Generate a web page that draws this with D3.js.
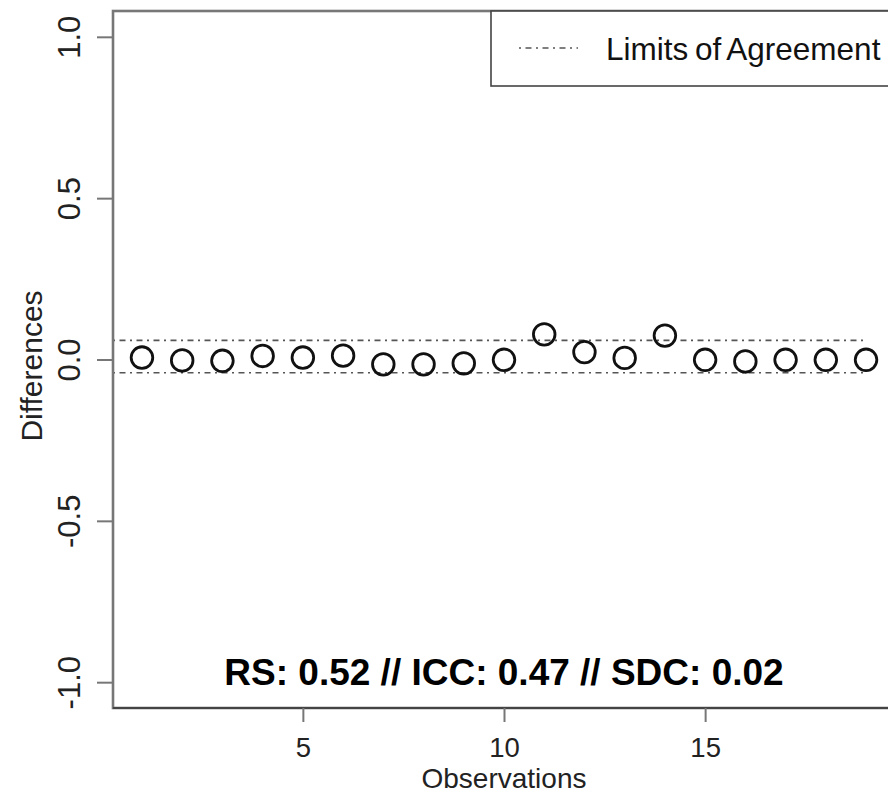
<!DOCTYPE html>
<html>
<head>
<meta charset="utf-8">
<script src="https://cdn.jsdelivr.net/npm/d3@7"></script>
<style>
  body { margin: 0; background: #fff; }
  svg { display: block; font-family: "Liberation Sans", Arial, sans-serif; }
</style>
</head>
<body>
<svg id="chart" width="888" height="795"></svg>
<script>
var observations = [1,2,3,4,5,6,7,8,9,10,11,12,13,14,15,16,17,18,19]
var differences = [0.006,-0.003,-0.004,0.011,0.006,0.012,-0.015,-0.015,-0.012,-0.001,
                   0.078,0.023,0.005,0.074,-0.001,-0.006,-0.001,-0.001,-0.001]
var limits = [-0.041, 0.059]
var xTicks = [5, 10, 15]
var yTicks = [-1, -0.5, 0, 0.5, 1]
var legendLabel = 'Limits of Agreement'
var statsLabel = 'RS: 0.52 // ICC: 0.47 // SDC: 0.02'

var svg = d3.select('#chart')
// plot region (note: "top" is taken by window.top)
var plotL = 113, plotR = 895, plotT = 11, plotB = 708

// R style 4% padding on each side
var xScale = d3.scaleLinear().domain([0.28, 19.72]).range([plotL, plotR])
var yScale = d3.scaleLinear().domain([-1.08, 1.08]).range([plotB, plotT])

var dash = '2,4.5,6,4.5'
var fmtY = function (d) { return d3.format('.1f')(d).replace('\u2212', '-') }

// limits of agreement
svg.selectAll('.loa')
  .data(limits)
  .enter().append('line')
  .attr('class', 'loa')
  .attr('x1', xScale(0.28))
  .attr('x2', xScale(19))
  .attr('y1', function (d) { return yScale(d) })
  .attr('y2', function (d) { return yScale(d) })
  .attr('stroke', '#555')
  .attr('stroke-width', 1.7)
  .attr('stroke-dasharray', dash)

// points
svg.selectAll('.pt')
  .data(observations)
  .enter().append('circle')
  .attr('class', 'pt')
  .attr('cx', function (d) { return xScale(d) })
  .attr('cy', function (d, i) { return yScale(differences[i]) })
  .attr('r', 10.8)
  .attr('fill', 'none')
  .attr('stroke', '#111')
  .attr('stroke-width', 2.8)

// box
svg.append('rect')
  .attr('x', plotL).attr('y', plotT)
  .attr('width', plotR - plotL).attr('height', plotB - plotT)
  .attr('fill', 'none')
  .attr('stroke', '#777')
  .attr('stroke-width', 2.6)

svg.append('line')
  .attr('x1', plotL).attr('x2', plotR)
  .attr('y1', plotB).attr('y2', plotB)
  .attr('stroke', '#333')
  .attr('stroke-width', 1.6)

// axes
var xAxis = svg.append('g')
  .attr('transform', 'translate(0,' + plotB + ')')
  .call(d3.axisBottom(xScale).tickValues(xTicks).tickSize(14).tickFormat(d3.format('d')))
xAxis.select('.domain').remove()
xAxis.selectAll('.tick line').attr('stroke', '#777').attr('stroke-width', 2)
xAxis.selectAll('.tick text')
  .attr('y', 49)
  .attr('dy', null)
  .attr('fill', '#222')
  .style('font-size', '27.5px')
  .style('font-family', '"Liberation Sans", Arial, sans-serif')

var yAxis = svg.append('g')
  .attr('transform', 'translate(' + plotL + ',0)')
  .call(d3.axisLeft(yScale).tickValues(yTicks).tickSize(16).tickFormat(fmtY))
yAxis.select('.domain').remove()
yAxis.selectAll('.tick line').attr('stroke', '#777').attr('stroke-width', 2)
yAxis.selectAll('.tick text')
  .attr('x', null)
  .attr('dy', null)
  .attr('transform', 'translate(-33,0) rotate(-90)')
  .attr('text-anchor', 'middle')
  .attr('fill', '#222')
  .style('font-size', '31px')
  .style('font-family', '"Liberation Sans", Arial, sans-serif')

// axis titles
svg.append('text')
  .attr('x', xScale(10)).attr('y', 788)
  .attr('text-anchor', 'middle')
  .attr('fill', '#222')
  .style('font-size', '28px')
  .text('Observations')

svg.append('text')
  .attr('transform', 'translate(42,366) rotate(-90)')
  .attr('text-anchor', 'middle')
  .attr('fill', '#222')
  .style('font-size', '30px')
  .text('Differences')

// legend
svg.append('rect')
  .attr('x', 491).attr('y', plotT)
  .attr('width', plotR - 491).attr('height', 86 - plotT)
  .attr('fill', '#fff')
  .attr('stroke', '#444')
  .attr('stroke-width', 1.6)

svg.append('line')
  .attr('x1', 519).attr('x2', 578)
  .attr('y1', 48).attr('y2', 48)
  .attr('stroke', '#555')
  .attr('stroke-width', 1.7)
  .attr('stroke-dasharray', dash)

svg.append('text')
  .attr('x', 606).attr('y', 60)
  .attr('fill', '#111')
  .style('font-size', '31.5px')
  .style('word-spacing', '-2px')
  .text(legendLabel)

// stats
svg.append('text')
  .attr('x', xScale(10)).attr('y', 685)
  .attr('text-anchor', 'middle')
  .attr('fill', '#000')
  .style('font-size', '37px')
  .style('font-weight', 'bold')
  .text(statsLabel)
</script>
</body>
</html>
